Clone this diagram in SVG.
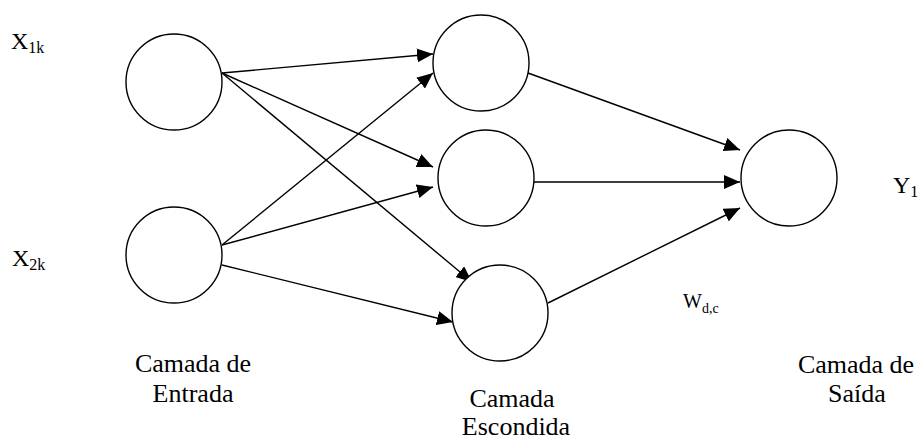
<svg xmlns="http://www.w3.org/2000/svg" width="921" height="441" viewBox="0 0 921 441">
<style>
.node{fill:#fff;stroke:#000;stroke-width:1.4}
.edge{stroke:#000;stroke-width:1.4;fill:none;marker-end:url(#arr)}
.lbl{font-size:26px}
.var{font-size:24px}
.sub{font-size:16px}
</style>
<defs>
<marker id="arr" markerUnits="userSpaceOnUse" markerWidth="16" markerHeight="14" refX="16" refY="7" orient="auto">
<path d="M0,0 L16,7 L0,14 z" fill="#000"/>
</marker>
</defs>
<rect width="921" height="441" fill="#fff"/>
<g id="connectors">
<line class="edge" x1="222" y1="73" x2="433" y2="54"/>
<line class="edge" x1="222" y1="73" x2="433" y2="167"/>
<line class="edge" x1="222" y1="73" x2="472" y2="282"/>
<line class="edge" x1="222" y1="245" x2="433" y2="73"/>
<line class="edge" x1="222" y1="245" x2="433" y2="187"/>
<line class="edge" x1="222" y1="265" x2="453" y2="322"/>
<line class="edge" x1="528" y1="73" x2="740" y2="150"/>
<line class="edge" x1="528" y1="182" x2="740" y2="182"/>
<line class="edge" x1="548" y1="303" x2="740" y2="208"/>
</g>
<g id="in1"><circle class="node" cx="174" cy="82" r="48"/></g>
<g id="in2"><circle class="node" cx="174" cy="255" r="48"/></g>
<g id="h1"><circle class="node" cx="481" cy="63" r="48"/></g>
<g id="h2"><circle class="node" cx="486" cy="178" r="48"/></g>
<g id="h3"><circle class="node" cx="500" cy="313" r="48"/></g>
<g id="out"><circle class="node" cx="789" cy="178" r="48"/></g>
<g id="labels" fill="#000">
<text font-family="Liberation Serif, Tinos, Noto Serif, DejaVu Serif, Times New Roman, Times, serif" class="var" x="11" y="49">X<tspan class="sub" dy="4">1k</tspan></text>
<text font-family="Liberation Serif, Tinos, Noto Serif, DejaVu Serif, Times New Roman, Times, serif" class="var" x="12" y="266">X<tspan class="sub" dy="4">2k</tspan></text>
<text font-family="Liberation Serif, Tinos, Noto Serif, DejaVu Serif, Times New Roman, Times, serif" class="var" x="893" y="193">Y<tspan class="sub" dy="4">1</tspan></text>
<text font-family="Liberation Serif, Tinos, Noto Serif, DejaVu Serif, Times New Roman, Times, serif" x="683" y="308" font-size="20">W<tspan font-size="14" dy="5">d,c</tspan></text>
<text font-family="Liberation Serif, Tinos, Noto Serif, DejaVu Serif, Times New Roman, Times, serif" class="lbl" text-anchor="middle" x="193" y="372">Camada de</text>
<text font-family="Liberation Serif, Tinos, Noto Serif, DejaVu Serif, Times New Roman, Times, serif" class="lbl" text-anchor="middle" x="193" y="402">Entrada</text>
<text font-family="Liberation Serif, Tinos, Noto Serif, DejaVu Serif, Times New Roman, Times, serif" class="lbl" text-anchor="middle" x="512" y="407">Camada</text>
<text font-family="Liberation Serif, Tinos, Noto Serif, DejaVu Serif, Times New Roman, Times, serif" class="lbl" text-anchor="middle" x="516" y="435">Escondida</text>
<text font-family="Liberation Serif, Tinos, Noto Serif, DejaVu Serif, Times New Roman, Times, serif" class="lbl" text-anchor="middle" x="856" y="373">Camada de</text>
<text font-family="Liberation Serif, Tinos, Noto Serif, DejaVu Serif, Times New Roman, Times, serif" class="lbl" text-anchor="middle" x="857" y="402">Saída</text>
</g>
</svg>
